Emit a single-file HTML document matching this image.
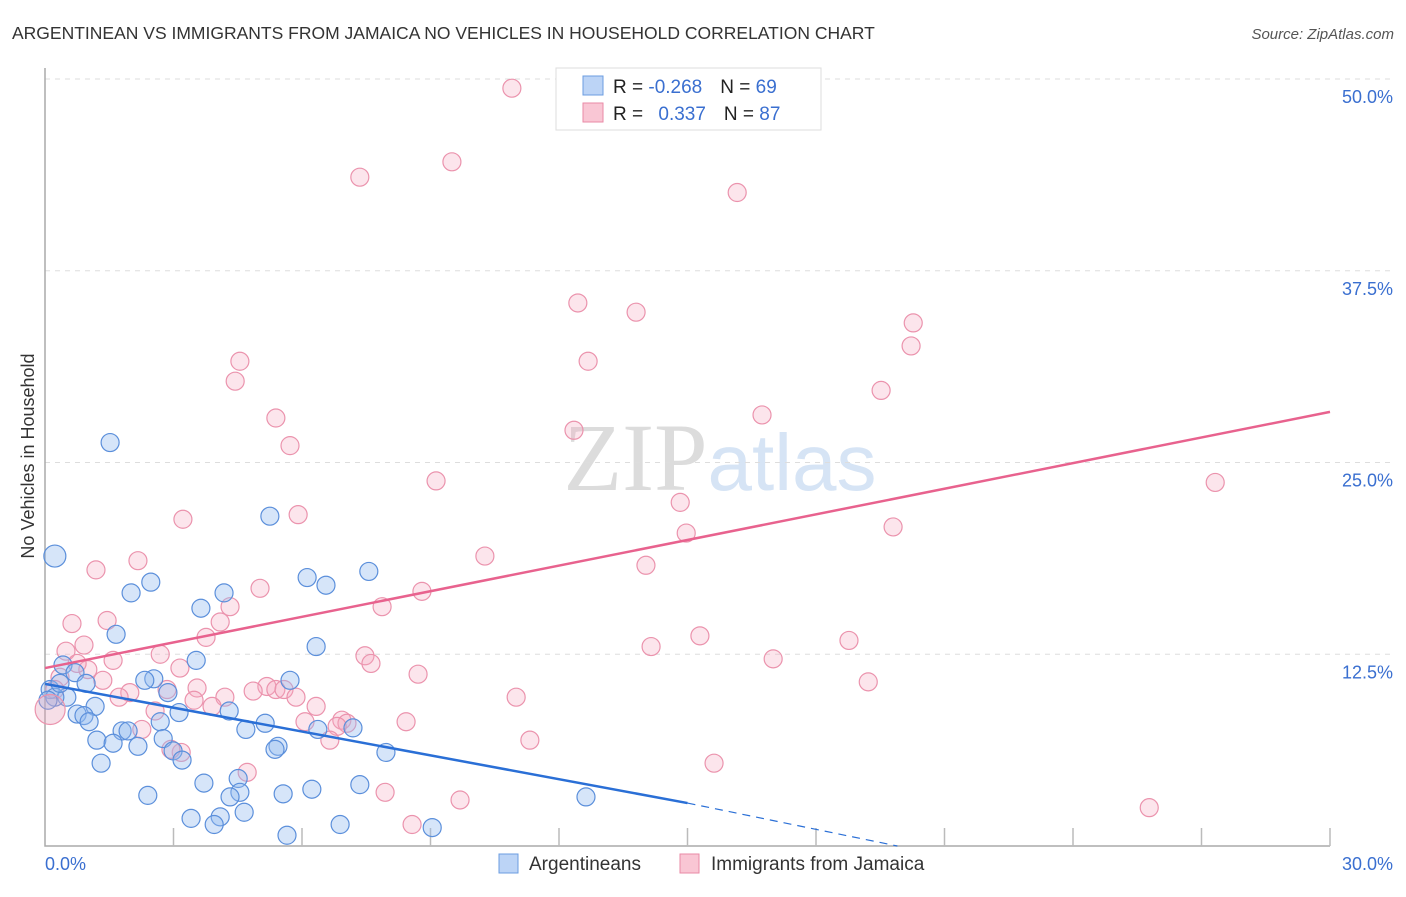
<!DOCTYPE html>
<html><head><meta charset="utf-8"><style>
body{margin:0;background:#fff;font-family:"Liberation Sans",sans-serif}
svg text{font-family:"Liberation Sans",sans-serif}
</style></head><body>
<svg id="c" width="1406" height="892" xmlns="http://www.w3.org/2000/svg">
<text x="12" y="39" font-size="17.5" fill="#333">ARGENTINEAN VS IMMIGRANTS FROM JAMAICA NO VEHICLES IN HOUSEHOLD CORRELATION CHART</text>
<text x="1394" y="39" font-size="15" fill="#555" font-style="italic" text-anchor="end">Source: ZipAtlas.com</text>
<text x="720" y="490" font-size="96" fill="#e4e4e4" text-anchor="middle" font-family="Liberation Serif"><tspan font-family="Liberation Serif" fill="#dcdcdc">ZIP</tspan><tspan font-family="Liberation Sans" fill="#d6e4f5" font-size="80">atlas</tspan></text>
<text transform="translate(34,456) rotate(-90)" font-size="18" fill="#333" text-anchor="middle">No Vehicles in Household</text>
<g id="grid"></g><g id="pts"></g><g id="lines"></g>
<g>
<rect x="556" y="68" width="265" height="62" fill="#fff" stroke="#ddd"/>
<rect x="583" y="76" width="20" height="19" fill="#bcd4f6" stroke="#6b9de0"/>
<rect x="583" y="103" width="20" height="19" fill="#f9c6d4" stroke="#e98aa6"/>
<text x="613" y="93" font-size="19" fill="#222">R = <tspan fill="#3a6fd0">-0.268</tspan><tspan dx="18">N = </tspan><tspan fill="#3a6fd0">69</tspan></text>
<text x="613" y="120" font-size="19" fill="#222">R = <tspan fill="#3a6fd0" dx="10">0.337</tspan><tspan dx="18">N = </tspan><tspan fill="#3a6fd0">87</tspan></text>
</g>
<g>
<rect x="499" y="854" width="19" height="19" fill="#bcd4f6" stroke="#6b9de0"/>
<text x="529" y="870" font-size="19" fill="#333">Argentineans</text>
<rect x="680" y="854" width="19" height="19" fill="#f9c6d4" stroke="#e98aa6"/>
<text x="711" y="870" font-size="19" fill="#333">Immigrants from Jamaica</text>
</g>
</svg>
<script>
const yTicks=[12.5,25,37.5,50];
const yTickLabels=["12.5%","25.0%","37.5%","50.0%"];
const xTickLabels=["0.0%","30.0%"];
const blueX=[0.23,1.52,5.25,2.47,2.01,4.18,3.64,6.12,6.56,7.56,1.66,6.33,3.53,0.42,0.70,0.96,2.54,2.33,2.87,5.72,0.12,0.51,1.17,3.13,4.30,0.75,0.91,1.03,2.69,5.14,4.69,6.37,7.19,1.80,1.94,2.76,1.21,1.59,2.17,5.44,5.37,2.99,7.96,3.20,1.31,4.51,3.71,7.35,6.23,5.56,4.55,2.40,4.32,12.63,3.41,4.09,4.65,3.95,6.89,9.04,5.65,0.23,0.07,0.35];
const blueY=[18.9,26.3,21.5,17.2,16.5,16.5,15.5,17.5,17.0,17.9,13.8,13.0,12.1,11.8,11.3,10.6,10.9,10.8,10.0,10.8,10.2,9.7,9.1,8.7,8.8,8.6,8.5,8.1,8.1,8.0,7.6,7.6,7.7,7.5,7.5,7.0,6.9,6.7,6.5,6.5,6.3,6.2,6.1,5.6,5.4,4.4,4.1,4.0,3.7,3.4,3.5,3.3,3.2,3.2,1.8,1.9,2.2,1.4,1.4,1.2,0.7,9.7,9.5,10.6];
const pinkX=[10.90,9.50,7.35,16.16,12.44,13.80,20.27,20.22,12.68,4.55,4.44,19.52,16.74,5.39,5.72,12.35,9.13,27.32,14.83,5.91,3.22,14.97,19.80,10.27,2.17,1.19,14.03,5.02,8.80,7.87,4.32,1.45,0.63,4.09,3.76,0.91,15.29,18.77,14.15,2.69,0.49,1.59,17.0,7.47,7.61,3.15,1.00,0.75,8.71,19.22,1.35,5.18,5.39,5.58,4.86,3.55,2.85,1.98,1.73,4.20,5.86,11.0,3.48,3.90,6.33,2.57,6.07,6.93,7.05,8.43,6.82,2.26,6.65,11.32,3.18,2.94,15.62,4.72,7.94,9.69,25.78,8.57,0.35,0.23];
const pinkY=[49.4,44.6,43.6,42.6,35.4,34.8,34.1,32.6,31.6,31.6,30.3,29.7,28.1,27.9,26.1,27.1,23.8,23.7,22.4,21.6,21.3,20.4,20.8,18.9,18.6,18.0,18.3,16.8,16.6,15.6,15.6,14.7,14.5,14.6,13.6,13.1,13.7,13.4,13.0,12.5,12.7,12.1,12.2,12.4,11.9,11.6,11.5,11.9,11.2,10.7,10.8,10.4,10.2,10.2,10.1,10.3,10.2,10.0,9.7,9.7,9.7,9.7,9.5,9.1,9.1,8.8,8.1,8.2,8.0,8.1,7.8,7.6,6.9,6.9,6.1,6.3,5.4,4.8,3.5,3.0,2.5,1.4,11.0,10.2];
const blueTrend=[[0,10.57],[15,2.8]];
const blueDash=[[15,2.8],[19.9,0]];
const pinkTrend=[[0,11.6],[30,28.3]];
const NS="http://www.w3.org/2000/svg";
const X0=45,X1=1330,Y0=846,Y50=79;
const sx=v=>X0+(X1-X0)*v/30, sy=v=>Y0-(Y0-Y50)*v/50;
function mk(t,a,p){const e=document.createElementNS(NS,t);for(const k in a)e.setAttribute(k,a[k]);p.appendChild(e);return e;}
const g=document.getElementById('grid');
yTicks.forEach((t,i)=>{
 const l=mk('line',{x1:X0,x2:1395,y1:sy(t),y2:sy(t),stroke:'#ddd','stroke-dasharray':'5,5'},g);
 
 
 const tx=mk('text',{x:1393,y:sy(t)+24,'font-size':18,fill:'#3a6fd0','text-anchor':'end'},g);
 tx.textContent=yTickLabels[i];
 
 
});
const ax=mk('path',{d:`M${X0},68V${Y0}H${X1}`,fill:'none',stroke:'#aaa','stroke-width':1.5},g);


for(let i=1;i<=10;i++){const t=mk('line',{x1:sx(i*3),x2:sx(i*3),y1:Y0,y2:Y0-18,stroke:'#bbb','stroke-width':1.5},g);
 
 }
xTickLabels.forEach((s,i)=>{const t=mk('text',{x:i?1393:45,y:870,'font-size':18,fill:'#3a6fd0','text-anchor':i?'end':'start'},g);t.textContent=s;
 
 });
const P=document.getElementById('pts');
pinkX.forEach((x,i)=>{const c=mk('circle',{cx:sx(x),cy:sy(pinkY[i]),r:9,fill:'rgba(244,170,192,0.3)',stroke:'#eb93ad','stroke-width':1.2},P);
 
 });
blueX.forEach((x,i)=>{const c=mk('circle',{cx:sx(x),cy:sy(blueY[i]),r:i==0?11:9,fill:'rgba(147,187,240,0.38)',stroke:'#5b8fdb','stroke-width':1.2},P);
 
 });
const big=mk('circle',{cx:sx(0.12),cy:sy(8.9),r:15,fill:'rgba(230,160,185,0.35)',stroke:'#eb93ad','stroke-width':1.2},P);


const L=document.getElementById('lines');
function ln(a,col,dash,name){const e=mk('line',{x1:sx(a[0][0]),y1:sy(a[0][1]),x2:sx(a[1][0]),y2:sy(a[1][1]),stroke:col,'stroke-width':dash?1.2:2.5,'stroke-dasharray':dash||'none'},L);
 
 }
ln(blueTrend,'#2a6fd6',null,'argentinean-trendline');
ln(blueDash,'#2a6fd6','8,6','argentinean-trendline-extension');
ln(pinkTrend,'#e8628e',null,'jamaica-trendline');
</script>
</body></html>
